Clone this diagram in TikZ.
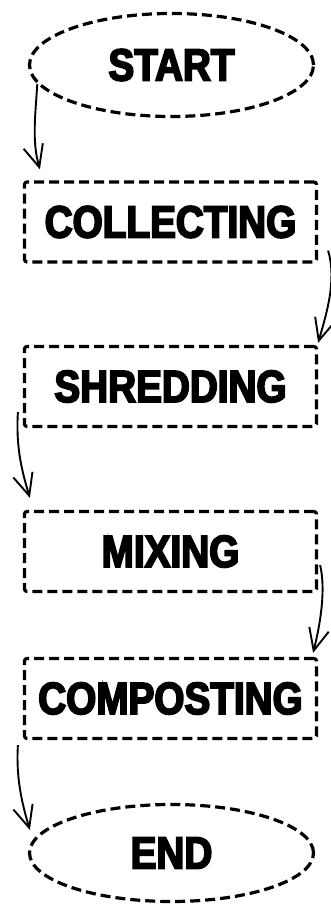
\documentclass[tikz,border=0pt]{standalone}
\usepackage{fontspec}
\newfontfamily\labelfont[FakeStretch=0.86,FakeBold=4]{Liberation Sans}
\usetikzlibrary{shapes.geometric,arrows.meta}
\begin{document}
\begin{tikzpicture}[x=1pt,y=1pt,
  txt/.style={font=\labelfont\bfseries\fontsize{45}{48}\selectfont},
  dashline/.style={line width=3.2pt,dash pattern=on 10pt off 5pt},
  stepbox/.style={draw,dashline,rectangle,rounded corners=2.5pt,minimum width=292pt,minimum height=80pt,inner sep=0pt,txt},
  terminal/.style={draw,dashline,ellipse,minimum width=284pt,inner sep=0pt,txt},
  arr/.style={line width=1.9pt,-{Straight Barb[length=22pt,width=20pt,line width=1.9pt]}}
]
\useasboundingbox (0,0) rectangle (330,907);
\node[terminal,minimum height=103pt] (start) at (171.5,842) {START};
\node[stepbox] (coll) at (170.5,685) {COLLECTING};
\node[stepbox] (shred) at (170.5,520.5) {SHREDDING};
\node[stepbox] (mix) at (170.5,355.5) {MIXING};
\node[stepbox] (comp) at (170.5,208.5) {COMPOSTING};
\node[terminal,minimum height=97pt] (end) at (171.5,54) {END};

\draw[arr] (start.188) .. controls +(-2,-33) and +(-8,28) .. ([shift={(17,11)}]coll.north west);
\draw[arr] ([shift={(10,13)}]coll.south east) .. controls +(9,-30) and +(8,28) .. ([shift={(0,2)}]shred.north east);
\draw[arr] ([shift={(-5,16)}]shred.south west) .. controls +(-2,-33) and +(-9,30) .. ([shift={(7,12)}]mix.north west);
\draw[arr] ([shift={(2,28)}]mix.south east) .. controls +(6,-25) and +(7,28) .. ([shift={(-5,4)}]comp.north east);
\draw[arr] ([shift={(-5,-5)}]comp.south west) .. controls +(-2,-33) and +(-8,27) .. ([shift={(2,23)}]end.west);
\end{tikzpicture}
\end{document}
